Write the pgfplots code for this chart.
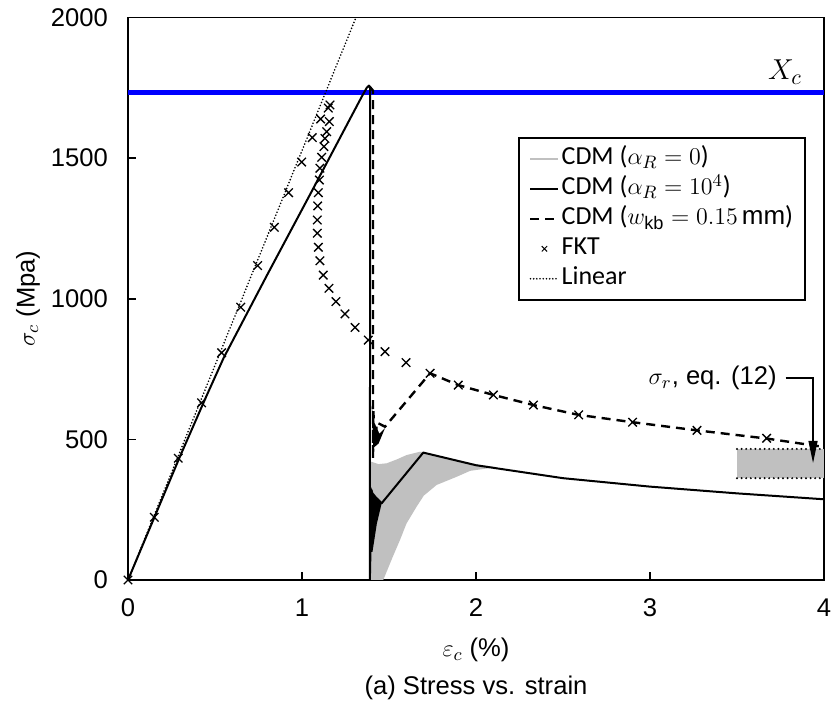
\documentclass[border=0pt]{standalone}
\usepackage{pgfplots}
\pgfplotsset{compat=1.18}
\usepackage{fontspec}
\setmainfont{Liberation Sans}
\newfontfamily\calibri{Carlito}
\usetikzlibrary{arrows.meta}
\definecolor{cdmgray}{RGB}{192,192,192}
\definecolor{xcblue}{RGB}{0,0,255}

\begin{document}
\begin{tikzpicture}
\begin{axis}[
  scale only axis, width=348pt, height=281.25pt,
  xmin=0, xmax=4, ymin=0, ymax=2000,
  xtick={0,1,2,3,4}, ytick={0,500,1000,1500,2000},
  tick align=inside, xtick pos=left, ytick pos=left,
  major tick length=3.8pt,
  axis line style={line width=0.8pt},
  every tick/.style={black, line width=0.8pt},
  tick label style={font=\fontsize{12.8}{15}\selectfont},
  /pgf/number format/assume math mode=true,
  /pgf/number format/1000 sep={},
  yticklabel style={xshift=-6.5pt},
  xticklabel style={yshift=-6pt},
  clip=false,
  xlabel={$\varepsilon_c$ (\%)},
  ylabel={$\sigma_c$ (Mpa)},
  label style={font=\fontsize{12.8}{15}\selectfont},
  xlabel style={at={(axis description cs:0.5,-0.1244)}, anchor=center},
  ylabel style={at={(axis description cs:-0.1437,0.5)}, anchor=center},
  legend cell align=left,
  legend image code/.code={\draw[mark repeat=2,mark phase=2,#1] plot coordinates {(0pt,0pt) (7pt,0pt) (14pt,0pt)};},
  legend style={at={(0.974,0.7876)}, anchor=north east, draw=black, line width=0.8pt,
    font=\calibri\fontsize{13}{15}\selectfont,
    inner xsep=5pt, inner ysep=3pt,
    nodes={inner sep=1pt, text height=9.5pt, text depth=3.5pt},
    /tikz/every even column/.append style={column sep=4pt}},
]
\coordinate (bl) at (rel axis cs:0,0);
\coordinate (tr) at (rel axis cs:1,1);

% legend entries
\addlegendimage{cdmgray, line width=1pt}
\addlegendentry{CDM ($\alpha_R = 0$)}
\addlegendimage{black, line width=1pt}
\addlegendentry{CDM ($\alpha_R = 10^4$)}
\addlegendimage{black, line width=1.2pt, dash pattern=on 4.5pt off 3pt}
\addlegendentry{CDM ($w_{\mathrm{kb}} = 0.15\,\mathrm{mm}$)}
\addlegendimage{only marks, mark=x, mark size=1.9pt, mark options={line width=0.5pt}, black}
\addlegendentry{FKT}
\addlegendimage{black, line width=0.9pt, dash pattern=on 0pt off 1.6pt, line cap=round}
\addlegendentry{Linear}

% X_c line
\addplot[forget plot, xcblue, line width=2.8pt] coordinates {(0,1733) (4,1733)};

% gray band CDM alpha_R = 0
\addplot[forget plot, fill=cdmgray, draw=none] coordinates {
(1.395,0) (1.395,421) (1.44,412) (1.487,415) (1.55,430) (1.60,444) (1.678,456) (1.697,455)
(1.8,440) (1.9,426) (2.0,412) (2.12,401) (2.08,398) (1.966,388) (1.889,367)
(1.774,338) (1.70,300) (1.659,261) (1.60,200) (1.563,142) (1.52,80) (1.467,0)} -- cycle;

% residual gray box
\addplot[forget plot, fill=cdmgray, draw=none] coordinates {(3.5,362) (4,362) (4,466) (3.5,466)} -- cycle;
\addplot[forget plot, black, line width=1.1pt, dash pattern=on 0pt off 2.3pt, line cap=round] coordinates {(3.5,466) (4,466)};
\addplot[forget plot, black, line width=1.1pt, dash pattern=on 0pt off 2.3pt, line cap=round] coordinates {(3.5,362) (4,362)};

% Linear
\addplot[forget plot, black, line width=0.9pt, dash pattern=on 0pt off 1.6pt, line cap=round] coordinates {(0,0) (1.31,2000)};

% CDM alpha_R = 1e4
\addplot[forget plot, black, line width=1pt, line join=round] coordinates {
(0,0) (0.3,441) (0.45,653) (0.55,790) (0.8,1085) (1.05,1375) (1.343,1718) (1.372,1750) (1.385,1758) (1.392,1748)
(1.39,0) (1.395,150) (1.40,320) (1.41,200) (1.43,290) (1.458,273)
(1.697,453) (2.0,408) (2.5,362) (3.0,332) (3.5,308) (4.0,287)};
\addplot[forget plot, fill=black, draw=none] coordinates {
(1.39,100) (1.39,340) (1.41,310) (1.458,273) (1.43,200) (1.405,100)} -- cycle;

% CDM w_kb
\addplot[forget plot, black, line width=1.2pt, dash pattern=on 4.5pt off 3pt] coordinates {
(1.388,1755) (1.408,1740) (1.408,430) (1.41,600) (1.42,480) (1.43,560) (1.477,545)
(1.736,735) (1.898,693) (2.10,658) (2.33,622) (2.59,587) (2.90,561) (3.27,532) (3.67,503) (4.0,473)};
\addplot[forget plot, fill=black, draw=none] coordinates {
(1.40,620) (1.415,560) (1.445,520) (1.477,540) (1.44,485) (1.41,470)} -- cycle;

% FKT
\addplot[forget plot, only marks, mark=x, mark size=3pt, mark options={line width=0.65pt}, black] coordinates {
(0,0) (0.151,223) (0.289,433) (0.423,630) (0.538,808) (0.648,970) (0.745,1118) (0.841,1254)
(0.923,1377) (0.998,1486) (1.059,1573) (1.107,1639) (1.161,1689) (1.151,1678) (1.157,1630)
(1.142,1594) (1.132,1570) (1.126,1541) (1.113,1503) (1.103,1464) (1.10,1422) (1.094,1377)
(1.09,1330) (1.088,1280) (1.088,1233) (1.094,1183) (1.103,1135) (1.122,1084) (1.155,1037)
(1.195,990) (1.247,946) (1.305,898) (1.381,853) (1.477,812) (1.598,773) (1.736,735)
(1.898,693) (2.10,658) (2.33,622) (2.59,587) (2.90,561) (3.27,532) (3.67,504)};

% annotations
\node[font=\fontsize{15}{17}\selectfont] at (axis cs:3.776,1806) {$X_c$};
\node[anchor=east, font=\fontsize{12.8}{15}\selectfont, inner sep=0pt] at (axis cs:3.73,718) {$\sigma_r$, eq. (12)};
\draw[line width=0.6pt, -{Triangle[length=11pt,width=4.5pt]}] (axis cs:3.78,718) -- (axis cs:3.937,718) -- (axis cs:3.937,416);

\node[font=\fontsize{12.8}{15}\selectfont] at (axis description cs:0.5,-0.192) {(a) Stress vs. strain};
\end{axis}
\pgfresetboundingbox
\path ([shift={(-64pt,-62pt)}]bl) rectangle ([shift={(4.5pt,8.75pt)}]tr);
\end{tikzpicture}
\end{document}
